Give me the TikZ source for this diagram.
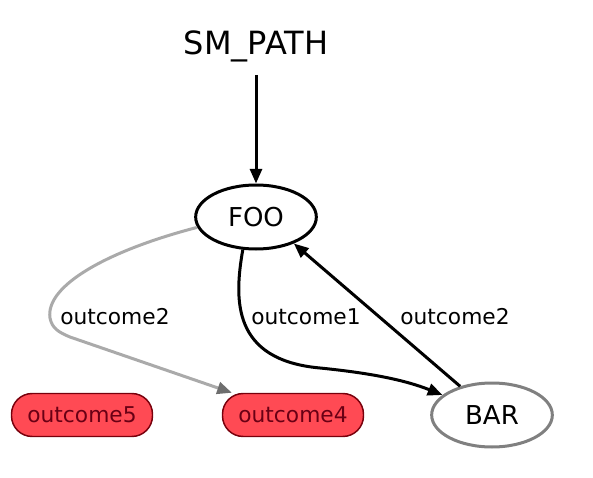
\documentclass[tikz,border=0pt]{standalone}
\usepackage{fontspec}
\setmainfont{DejaVu Sans}
\usepackage{tikz}
\usetikzlibrary{arrows.meta,shapes.geometric,positioning}
\definecolor{outfill}{RGB}{255,74,84}
\definecolor{outdraw}{RGB}{120,0,12}
\definecolor{outtext}{RGB}{105,0,20}
\definecolor{lightedge}{RGB}{170,170,170}
\definecolor{darkhead}{RGB}{110,110,110}
\tikzset{
  title/.style={font=\fontsize{24pt}{28pt}\selectfont,inner sep=0pt},
  state/.style={ellipse,draw,line width=2.25pt,minimum width=90.5pt,minimum height=48pt,
    inner sep=0pt,font=\fontsize{19.5pt}{23pt}\selectfont},
  terminal/.style={rectangle,rounded corners=15.5pt,draw=outdraw,fill=outfill,line width=1.1pt,
    minimum width=105.75pt,minimum height=32.25pt,inner sep=0pt,text=outtext,
    font=\fontsize{16.3pt}{19pt}\selectfont},
  lbl/.style={font=\fontsize{16.3pt}{19pt}\selectfont,inner sep=0pt},
  edge/.style={line width=2.25pt,-{Triangle[length=11pt,width=9pt]}},
  faint/.style={line width=2.25pt,lightedge,
    -{Triangle[length=11pt,width=9pt,color=darkhead,fill=darkhead]}}
}

\begin{document}
\begin{tikzpicture}[x=0.75pt,y=-0.75pt]
  \useasboundingbox (0,0) rectangle (593,478);

  \node[title,anchor=base] (path) at (256,55) {SM\_PATH};
  \node[state] (foo) at (256,217) {FOO};
  \node[state,draw=gray] (bar) at (492,415) {BAR};
  \node[terminal] (out5) at (82,415) {outcome5};
  \node[terminal] (out4) at (293,415) {outcome4};

  \coordinate (start) at (256,75);
  \draw[edge] (start) -- (foo);

  % foo -> bar
  \draw[edge] (foo.248) .. controls (234,300) and (232,360) .. (320,368)
    .. controls (370,373) and (405,380) .. (bar.158);
  % bar -> foo
  \draw[edge] (bar.138) -- (foo.-35);
  % foo -> outcome4
  \draw[faint] (foo.190) .. controls (110,250) and (45,285) .. (50,318)
    .. controls (52,328) and (58,332) .. (70,337) -- (out4.160);

  \node[lbl] (l1) at (306,317) {outcome1};
  \node[lbl] (l2) at (455,317) {outcome2};
  \node[lbl] (l3) at (115,317) {outcome2};
\end{tikzpicture}
\end{document}
